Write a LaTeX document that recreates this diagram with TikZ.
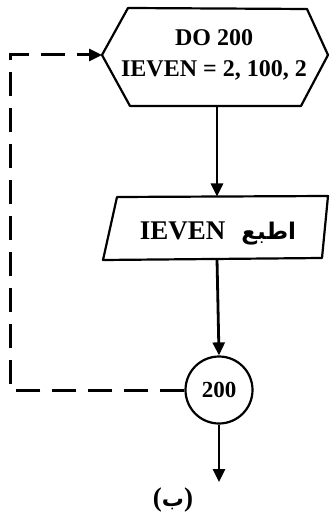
\documentclass[tikz,border=0pt]{standalone}
\usepackage{fontspec}
\setmainfont{Liberation Serif}
\newfontfamily\arabicfont[Script=Arabic]{DejaVu Sans}
\TeXXeTstate=1
\usetikzlibrary{arrows.meta}
\tikzset{
  shapeline/.style={line width=2.2pt, line join=round},
  arr/.style={line width=2.8pt, -{Triangle[length=13pt,width=12pt]}},
  loopline/.style={line width=3pt, dash pattern=on 24pt off 12pt, -{Triangle[length=13pt,width=12pt]}},
  txt/.style={inner sep=0pt, font=\bfseries\fontsize{24}{31}\selectfont, align=center},
}
\begin{document}
\begin{tikzpicture}[x=1pt,y=-1pt]
\useasboundingbox (0,0) rectangle (329,518);
% hexagon
\draw[shapeline] (102,55) coordinate (hexW) -- (128,8) -- (307,9) -- (328,55) -- (301,106) -- (130,106) -- cycle;
\coordinate (hexS) at (217,106);
\node[txt] (do) at (214,55) {DO 200\\IEVEN = 2, 100, 2};
% parallelogram
\draw[shapeline] (117,197) -- (328,196) -- (322,258) -- (103,260) -- cycle;
\coordinate (parN) at (217,196.5);
\coordinate (parS) at (217,259);
\node[txt, font=\bfseries\fontsize{27}{30}\selectfont] (pr) at (218,233.5) {IEVEN\hspace{16pt}{\arabicfont\bfseries\fontsize{23}{26}\selectfont\beginR اطبع\endR}};
% connector circle
\node[draw, circle, shapeline, minimum size=67pt, inner sep=0pt, font=\bfseries\fontsize{23}{26}\selectfont] (c200) at (219,390) {200};
\coordinate (endp) at (219,482);
\coordinate (cornerB) at (10,390);
\coordinate (cornerT) at (10,55);
% arrows
\draw[arr] (hexS) -- (parN);
\draw[arr] (parS) -- (c200.north);
\draw[arr] (c200.south) -- (endp);
\draw[loopline] (c200.west) -- (cornerB) -- (cornerT) -- (hexW);
% label
\node[inner sep=0pt, font=\bfseries\fontsize{27}{30}\selectfont] (lbl) at (173,500) {({\arabicfont\bfseries\fontsize{22}{26}\selectfont\beginR ب\endR})};
\end{tikzpicture}
\end{document}
